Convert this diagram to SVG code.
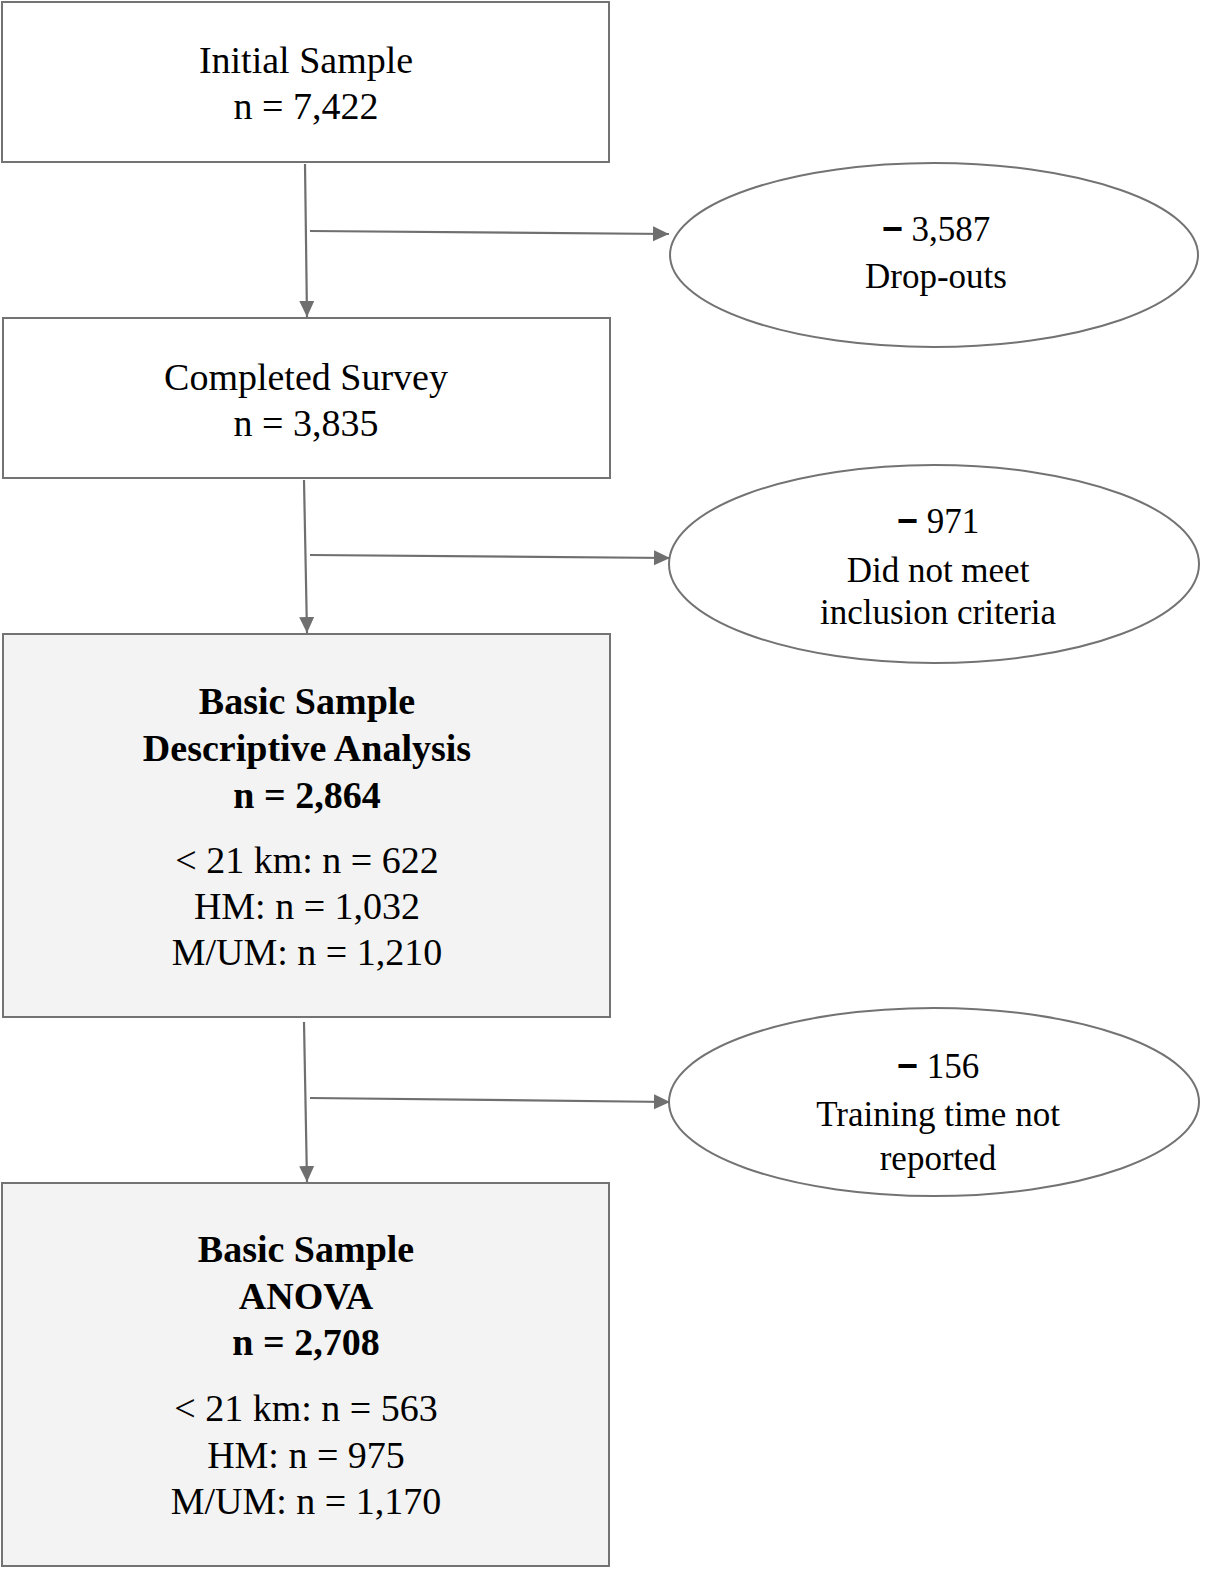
<svg xmlns="http://www.w3.org/2000/svg" width="1207" height="1576" viewBox="0 0 1207 1576">
<style>
.box{fill:#ffffff;stroke:#737373;stroke-width:2}
.box.grey{fill:#f3f3f3}
.ell{fill:#ffffff;stroke:#737373;stroke-width:2}
.t{font-family:"Liberation Serif","Times New Roman",serif;font-size:38px;fill:#000;text-anchor:middle}
.b{font-weight:bold}
.e{font-family:"Liberation Serif","Times New Roman",serif;font-size:35px;fill:#000;text-anchor:middle}
.m{font-family:"Liberation Sans",Arial,sans-serif;font-weight:bold;font-size:36px}
.conn path{fill:none;stroke:#6f6f6f;stroke-width:2.2;marker-end:url(#arr)}
</style>
<defs>
<marker id="arr" markerUnits="userSpaceOnUse" markerWidth="18" markerHeight="16" refX="16" refY="7.5" orient="auto">
<path d="M0,0 L16,7.5 L0,15 z" fill="#6f6f6f"/>
</marker>
</defs>
<rect width="1207" height="1576" fill="#ffffff"/>
<g id="initial">
<rect class="box" x="2" y="2" width="607" height="160"/>
<text class="t" x="306" y="73">Initial Sample</text>
<text class="t" x="306" y="119">n = 7,422</text>
</g>
<g id="completed">
<rect class="box" x="3" y="318" width="607" height="160"/>
<text class="t" x="306" y="390">Completed Survey</text>
<text class="t" x="306" y="436">n = 3,835</text>
</g>
<g id="descriptive">
<rect class="box grey" x="3" y="634" width="607" height="383"/>
<text class="t b" x="307" y="714">Basic Sample</text>
<text class="t b" x="307" y="761">Descriptive Analysis</text>
<text class="t b" x="307" y="808">n = 2,864</text>
<text class="t" x="307" y="873">&lt; 21 km: n = 622</text>
<text class="t" x="307" y="919">HM: n = 1,032</text>
<text class="t" x="307" y="965">M/UM: n = 1,210</text>
</g>
<g id="anova">
<rect class="box grey" x="2" y="1183" width="607" height="383"/>
<text class="t b" x="306" y="1262">Basic Sample</text>
<text class="t b" x="306" y="1309">ANOVA</text>
<text class="t b" x="306" y="1355">n = 2,708</text>
<text class="t" x="306" y="1421">&lt; 21 km: n = 563</text>
<text class="t" x="306" y="1468">HM: n = 975</text>
<text class="t" x="306" y="1514">M/UM: n = 1,170</text>
</g>
<g id="dropouts">
<ellipse class="ell" cx="934" cy="255" rx="264" ry="92"/>
<text class="e" x="936" y="241"><tspan class="m">−</tspan> 3,587</text>
<text class="e" x="936" y="288">Drop-outs</text>
</g>
<g id="inclusion">
<ellipse class="ell" cx="934" cy="564" rx="265" ry="99"/>
<text class="e" x="938" y="533"><tspan class="m">−</tspan> 971</text>
<text class="e" x="938" y="582">Did not meet</text>
<text class="e" x="938" y="624">inclusion criteria</text>
</g>
<g id="training">
<ellipse class="ell" cx="934" cy="1102" rx="265" ry="94"/>
<text class="e" x="938" y="1078"><tspan class="m">−</tspan> 156</text>
<text class="e" x="938" y="1126">Training time not</text>
<text class="e" x="938" y="1170">reported</text>
</g>
<g id="connectors" class="conn">
<path d="M305,164 L307,317"/>
<path d="M310,231 L669,234"/>
<path d="M304,480 L307,633"/>
<path d="M310,555 L670,558"/>
<path d="M304,1022 L307,1182"/>
<path d="M310,1098 L670,1102"/>
</g>
</svg>
